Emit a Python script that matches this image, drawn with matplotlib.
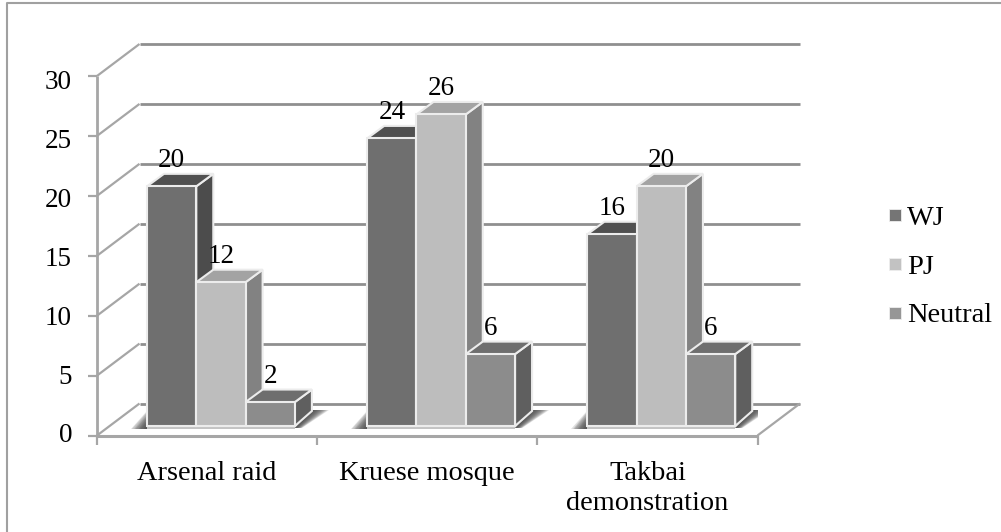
import numpy as np
import matplotlib
matplotlib.use('Agg')
import matplotlib.pyplot as plt
from matplotlib.patches import Polygon

categories = ['Arsenal raid', 'Kruese mosque', 'Takbai\ndemonstration']
series_names = ['WJ', 'PJ', 'Neutral']
wj_values = [20, 24, 16]
pj_values = [12, 26, 20]
neutral_values = [2, 6, 6]
y_ticks = [0, 5, 10, 15, 20, 25, 30]

series_values = [wj_values, pj_values, neutral_values]
front_colors = ['#6f6f6f', '#bdbdbd', '#8c8c8c']
top_colors = ['#505050', '#a3a3a3', '#6e6e6e']
side_colors = ['#4c4c4c', '#828282', '#5f5f5f']
legend_colors = ['#757575', '#c2c2c2', '#969696']
grid_color = '#8f8f8f'
wall_color = '#a6a6a6'
edge_color = '#ececec'

W, H = 1001, 532
plt.rcParams['font.family'] = ['Liberation Serif', 'DejaVu Serif']
fig = plt.figure(figsize=(W / 100, H / 100), dpi=100)
fig.patch.set_facecolor('white')

# chart frame, only the top and left edges are inside the picture
fig.add_artist(plt.Line2D([6.5 / W, 6.5 / W, 1], [0, 1 - 2.7 / H, 1 - 2.7 / H], transform=fig.transFigure,
                          color='#a0a0a0', lw=1.5))

# front plane of the 3d box in pixels: x 97-757.5, y 435.5-76
ax = fig.add_axes([97 / W, 1 - 435.5 / H, 660.5 / W, 359.5 / H])
ax.set_xlim(0, 3)
ax.set_ylim(0, 30)
ax.axis('off')

px_x = 3 / 660.5
px_y = 30 / 359.5
wall_dx, wall_dy = 42.5 * px_x, 32 * px_y
bar_dx, bar_dy = 17 * px_x, 12.5 * px_y
bar_base_dy = 15 * px_y
bar_w = 49.3 * px_x
bar_start = 50 * px_x
bar_base = 9.5 * px_y


def line(xs, ys, color, lw, z=1):
    ax.plot(xs, ys, color=color, lw=lw, solid_capstyle='butt', zorder=z, clip_on=False)


# walls and gridlines
for t in y_ticks:
    line([wall_dx, 3 + wall_dx], [t + wall_dy, t + wall_dy], grid_color, 2.0)
    line([0, wall_dx], [t, t + wall_dy], wall_color, 1.6, 1.5)
    line([-9 * px_x, 0], [t, t], wall_color, 1.6)
    # tick labels run on a slightly tighter spacing than the axis
    off = (-2.5 + t * 0.2) * px_y
    ax.text(-25 * px_x, t - off, str(t), ha='right', va='center_baseline', fontsize=19.5, color='black')
line([0, 0], [0, 30], wall_color, 2.0, 2)
line([0, 3], [0, 0], wall_color, 2.2, 2)
line([3, 3 + wall_dx], [0, wall_dy], wall_color, 1.6, 2)
for k in range(4):
    line([k, k], [0, -9 * px_y], wall_color, 1.6, 2)

for c in range(len(categories)):
    x0 = c + bar_start
    x_end = x0 + 3 * bar_w
    # soft shadows on the floor, left and right of each group
    for a in np.linspace(1, 0.1, 12):
        ax.add_patch(Polygon([(x_end, bar_base - 2 * px_y), (x_end + bar_dx, bar_base + bar_base_dy + 1 * px_y),
                              (x_end + bar_dx + 17 * a * px_x, bar_base + bar_base_dy + 1 * px_y),
                              (x_end + 7 * a * px_x, bar_base - 2 * px_y)],
                             facecolor='#444444', alpha=0.16, edgecolor='none', zorder=1.4))
        ax.add_patch(Polygon([(x0, bar_base + 15 * a * px_y), (x0, bar_base - 3 * px_y),
                              (x0 - 16 * a * px_x, bar_base - 3 * px_y)],
                             facecolor='#444444', alpha=0.16, edgecolor='none', zorder=1.4))
    ax.add_patch(Polygon([(x0, bar_base), (x_end, bar_base), (x_end, bar_base - 3 * px_y), (x0, bar_base - 3 * px_y)],
                         facecolor='#c4c4c4', edgecolor='none', zorder=1.4))
    for s, vals in enumerate(series_values):
        v = vals[c]
        xa = x0 + s * bar_w
        xb = xa + bar_w
        y0 = bar_base
        y1 = bar_base + v
        z = 3 + s + c * 4
        side = [(xb, y0), (xb + bar_dx, y0 + bar_base_dy), (xb + bar_dx, y1 + bar_dy), (xb, y1)]
        top = [(xa, y1), (xa + bar_dx, y1 + bar_dy), (xb + bar_dx, y1 + bar_dy), (xb, y1)]
        front = [(xa, y0), (xb, y0), (xb, y1), (xa, y1)]
        ax.add_patch(Polygon(side, facecolor=side_colors[s], edgecolor=edge_color, lw=1.5, zorder=z))
        ax.add_patch(Polygon(top, facecolor=top_colors[s], edgecolor=edge_color, lw=1.5, zorder=z))
        ax.add_patch(Polygon(front, facecolor=front_colors[s], edgecolor=edge_color, lw=1.5, zorder=z))
        ax.text(xa + bar_w / 2, y1 + 19.5 * px_y, str(v), ha='center', va='baseline',
                fontsize=19.5, color='black', zorder=30)

# category labels
for c, name in enumerate(categories):
    ax.text(c + 0.5, -25 * px_y, name, ha='center', va='top', fontsize=20.4,
            linespacing=1.3, color='black')

# legend
legend_y = [215, 264, 312.5]
for s, name in enumerate(series_names):
    py = legend_y[s]
    fig.add_artist(plt.Rectangle((888.5 / W, 1 - (py + 6) / H), 12.5 / W, 12 / H, transform=fig.transFigure,
                                 facecolor=legend_colors[s], edgecolor='#eeeeee', linewidth=0.6))
    fig.text(907 / W, 1 - (py + 10) / H, name, ha='left', va='baseline', fontsize=20.4, color='black')

fig.savefig('out.png', dpi=100)
